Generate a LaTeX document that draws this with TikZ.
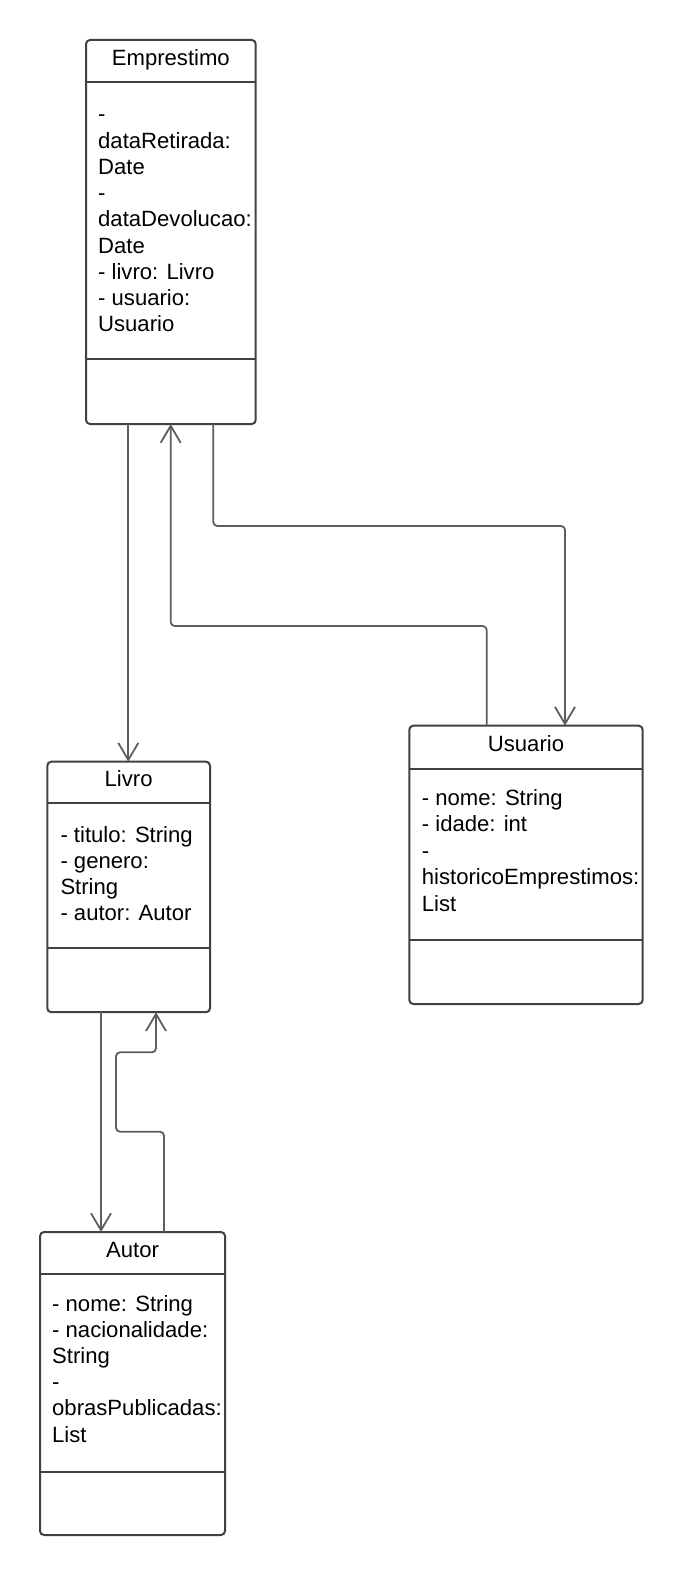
\documentclass[tikz,border=0pt]{standalone}
\usepackage{fontspec}
\setmainfont{Liberation Sans}
\usetikzlibrary{arrows.meta}
\definecolor{boxline}{HTML}{3D4148}
\definecolor{connline}{HTML}{5C5E63}
\newcommand{\attrlines}[1]{\begin{tabular}[t]{@{}l@{}}#1\end{tabular}}
\begin{document}
\begin{tikzpicture}[x=1pt,y=-1pt,
  classbox/.style={draw=boxline, line width=2pt, rounded corners=4pt, anchor=north west, inner sep=0pt, outer sep=0pt},
  divider/.style={draw=boxline, line width=2pt},
  title/.style={anchor=base, inner sep=0pt, font=\fontsize{22.1}{26.2}\selectfont},
  attrs/.style={anchor=base west, inner sep=0pt, font=\fontsize{22.1}{26.2}\selectfont},
  conn/.style={draw=connline, line width=1.8pt, rounded corners=4pt, -{Straight Barb[length=17pt,width=20pt,line width=1.8pt]}}]

\useasboundingbox[fill=white] (0,0) rectangle (683,1576);

% Emprestimo
\node[classbox, minimum width=169.7pt, minimum height=384pt] (emp) at (86,40) {};
\draw[divider] ([yshift=-42.3pt]emp.north west) -- ([yshift=-42.3pt]emp.north east);
\draw[divider] ([yshift=-319pt]emp.north west) -- ([yshift=-319pt]emp.north east);
\node[title] (empT) at ([yshift=-26pt]emp.north) {Emprestimo};
\node[attrs] (empA) at ([xshift=12pt,yshift=-82pt]emp.north west) {\attrlines{-\\dataRetirada:\\Date\\-\\dataDevolucao:\\Date\\- livro: Livro\\- usuario:\\Usuario}};

% Livro
\node[classbox, minimum width=162.7pt, minimum height=250.5pt] (livro) at (47.3,761.7) {};
\draw[divider] ([yshift=-41.6pt]livro.north west) -- ([yshift=-41.6pt]livro.north east);
\draw[divider] ([yshift=-186.6pt]livro.north west) -- ([yshift=-186.6pt]livro.north east);
\node[title] (livroT) at ([yshift=-25pt]livro.north) {Livro};
\node[attrs] (livroA) at ([xshift=13pt,yshift=-80.3pt]livro.north west) {\attrlines{- titulo: String\\- genero:\\String\\- autor: Autor}};

% Usuario
\node[classbox, minimum width=233.4pt, minimum height=278.3pt] (usu) at (409.3,725.7) {};
\draw[divider] ([yshift=-43.6pt]usu.north west) -- ([yshift=-43.6pt]usu.north east);
\draw[divider] ([yshift=-214.3pt]usu.north west) -- ([yshift=-214.3pt]usu.north east);
\node[title] (usuT) at ([yshift=-26pt]usu.north) {Usuario};
\node[attrs, font=\fontsize{22.1}{26.6}\selectfont] (usuA) at ([xshift=12.4pt,yshift=-79.3pt]usu.north west) {\attrlines{- nome: String\\- idade: int\\-\\historicoEmprestimos:\\List}};

% Autor
\node[classbox, minimum width=185pt, minimum height=303pt] (autor) at (40,1232) {};
\draw[divider] ([yshift=-42pt]autor.north west) -- ([yshift=-42pt]autor.north east);
\draw[divider] ([yshift=-240pt]autor.north west) -- ([yshift=-240pt]autor.north east);
\node[title] (autorT) at ([yshift=-25pt]autor.north) {Autor};
\node[attrs] (autorA) at ([xshift=12pt,yshift=-79pt]autor.north west) {\attrlines{- nome: String\\- nacionalidade:\\String\\-\\obrasPublicadas:\\List}};

% connectors
\coordinate (e1) at ([xshift=42.3pt]emp.south west);
\draw[conn] (e1) -- (e1 |- livro.north);

\coordinate (e3) at ([xshift=127.3pt]emp.south west);
\coordinate (u3) at ([xshift=155.7pt]usu.north west);
\coordinate (m3) at (0,526);
\draw[conn] (e3) -- (e3 |- m3) -| (u3);

\coordinate (u2) at ([xshift=77.4pt]usu.north west);
\coordinate (e2) at ([xshift=84.7pt]emp.south west);
\coordinate (m2) at (0,626);
\draw[conn] (u2) -- (u2 |- m2) -| (e2);

\coordinate (l4) at ([xshift=53.7pt]livro.south west);
\draw[conn] (l4) -- (l4 |- autor.north);

\coordinate (a5) at ([xshift=124pt]autor.north west);
\coordinate (m5) at (0,1131.7);
\coordinate (k5) at (116,1052.3);
\coordinate (l5) at ([xshift=108.7pt]livro.south west);
\draw[conn] (a5) -- (a5 |- m5) -| (k5) -| (l5);
\end{tikzpicture}
\end{document}
